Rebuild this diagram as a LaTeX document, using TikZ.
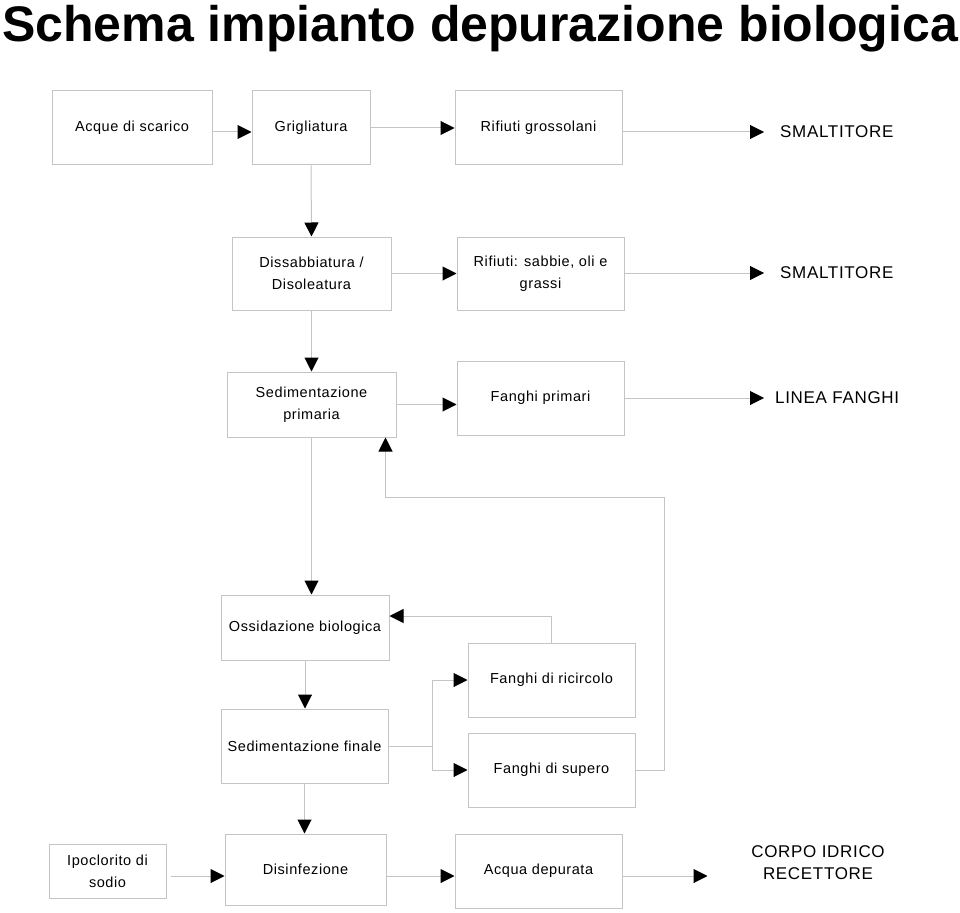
\documentclass[tikz,border=0pt]{standalone}
\usepackage{fontspec}
\setmainfont{Liberation Sans}
\newfontfamily\boxfont[LetterSpace=4]{Liberation Sans}
\usetikzlibrary{arrows.meta}
\definecolor{linegray}{RGB}{196,196,196}
\tikzset{
  box/.style 2 args={draw=linegray, line width=1pt, minimum width=#1, minimum height=#2,
    inner sep=0pt, align=center, font=\boxfont\fontsize{14.5}{22}\selectfont},
  dest/.style={align=center, inner sep=0pt, font=\boxfont\fontsize{17}{22}\selectfont},
  flow/.style={draw=linegray, line width=1pt, -{Triangle[length=14pt,width=14pt,color=black]}},
}

\begin{document}
\begin{tikzpicture}[x=1pt, y=-1pt]
  \useasboundingbox (0,0) rectangle (960,912);
  \node[anchor=base west, inner sep=0pt, font=\bfseries\fontsize{50}{56}\selectfont]
    (title) at (2,42) {Schema impianto depurazione biologica};

  % first row
  \node[box={160pt}{74pt}] (acque)   at (132,128)   {Acque di scarico};
  \node[box={118pt}{74pt}] (grig)    at (311,128)   {Grigliatura};
  \node[box={167pt}{74pt}] (rifgros) at (538.5,128) {Rifiuti grossolani};
  \node[dest, anchor=west] (smalt1)  at (780,132)   {SMALTITORE};

  \node[box={159pt}{73pt}] (dissab)  at (311.5,273.5) {Dissabbiatura /\\Disoleatura};
  \node[box={167pt}{73pt}] (rifsab)  at (540.5,273.5) {Rifiuti: sabbie, oli e\\grassi};
  \node[dest, anchor=west] (smalt2)  at (780,273)     {SMALTITORE};

  \node[box={169pt}{65pt}] (sedprim) at (311.5,404.5) {Sedimentazione\\primaria};
  \node[box={167pt}{74pt}] (fprim)   at (540.5,398)   {Fanghi primari};
  \node[dest, anchor=west] (linea)   at (775,398)     {LINEA FANGHI};

  % biological stage
  \node[box={168pt}{65pt}] (ossid)   at (305,627.5)   {Ossidazione biologica};
  \node[box={167pt}{74pt}] (ricirc)  at (551.5,680)   {Fanghi di ricircolo};
  \node[box={167pt}{74pt}] (sedfin)  at (304.5,746)   {Sedimentazione finale};
  \node[box={167pt}{74pt}] (supero)  at (551.5,770)   {Fanghi di supero};

  % last row
  \node[box={117pt}{54pt}] (ipoc)    at (107.5,871)   {Ipoclorito di\\sodio};
  \node[box={161pt}{71pt}] (disinf)  at (305.5,869.5) {Disinfezione};
  \node[box={167pt}{74pt}] (acqua)   at (538.5,871)   {Acqua depurata};
  \node[dest]              (corpo)   at (818,863)     {CORPO IDRICO\\RECETTORE};

  \coordinate (ret) at (664,497);

  \draw[flow] ([yshift=-4pt]acque.east) -- ([yshift=-4pt]acque.east -| grig.west);
  \draw[flow] (grig.east) -- (rifgros.west);
  \draw[flow] (rifgros.east |- smalt1.west) -- ([xshift=-16pt]smalt1.west);
  \draw[flow] (grig.south) -- (dissab.north);
  \draw[flow] (dissab.east) -- (rifsab.west);
  \draw[flow] (rifsab.east |- smalt2.west) -- ([xshift=-16pt]smalt2.west);
  \draw[flow] (dissab.south) -- (sedprim.north);
  \draw[flow] (sedprim.east) -- (sedprim.east -| fprim.west);
  \draw[flow] (fprim.east |- linea.west) -- ([xshift=-11pt]linea.west);
  \draw[flow] (sedprim.south) -- (sedprim.south |- ossid.north);
  \draw[flow] (ossid.south) -- (ossid.south |- sedfin.north);
  \draw[flow] (ricirc.north) |- ([yshift=11.5pt]ossid.east);
  \draw[flow] (sedfin.east) -- ++(44,0) |- (ricirc.west);
  \draw[flow] (sedfin.east) -- ++(44,0) |- (supero.west);
  \draw[flow] (supero.east) -| (ret) -| ([xshift=-11pt]sedprim.south east);
  \draw[flow] (sedfin.south) -- (sedfin.south |- disinf.north);
  \draw[flow] ([xshift=4pt,yshift=-5pt]ipoc.east) -- ([yshift=-5pt]ipoc.east -| disinf.west);
  \draw[flow] ([yshift=-6.5pt]disinf.east) -- ([yshift=-6.5pt]disinf.east -| acqua.west);
  \draw[flow] ([yshift=-5pt]acqua.east) -- ++(85,0);
\end{tikzpicture}
\end{document}
